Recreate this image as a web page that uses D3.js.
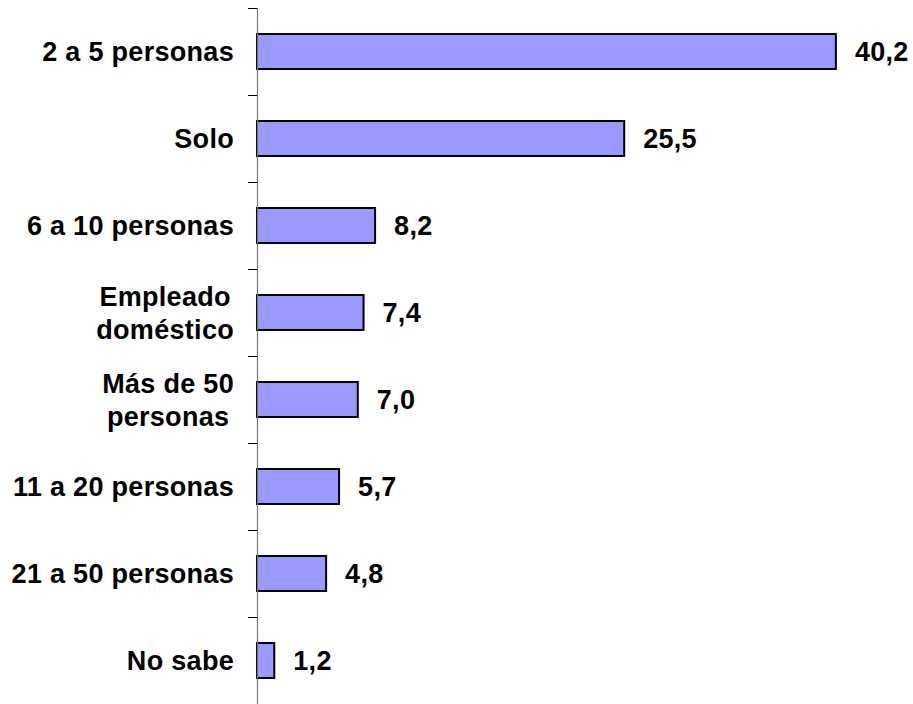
<!DOCTYPE html>
<html><head><meta charset="utf-8">
<script src="https://cdn.jsdelivr.net/npm/d3@7"></script>
<style>body{margin:0;background:#fff}text{font-family:Arial,"Liberation Sans",sans-serif;font-weight:bold;fill:#000}</style>
</head><body>
<svg id="c" width="913" height="704"></svg>
<script>
const categories = ["2 a 5 personas","Solo","6 a 10 personas","Empleado\ndoméstico","Más de 50\npersonas","11 a 20 personas","21 a 50 personas","No sabe"];
const values = [40.2,25.5,8.2,7.4,7.0,5.7,4.8,1.2];
const valueLabels = ["40,2","25,5","8,2","7,4","7,0","5,7","4,8","1,2"];

const svg = d3.select("#c");
const x = d3.scaleLinear().domain([0,45]).range([257,905]);
const y = d3.scaleBand().domain(categories).range([8,704]).paddingInner(0.598).paddingOuter(0.299);
const fs = 27;
const ls = "0.3px";

// bars
svg.selectAll("rect.bar").data(values).enter().append("rect")
  .attr("x", x(0)).attr("y",(d,i)=>y(categories[i]))
  .attr("width",d=>x(d)-x(0)).attr("height",y.bandwidth())
  .attr("fill","#9999FF").attr("stroke","#000").attr("stroke-width",2);

// axis
svg.append("line").attr("x1",257.5).attr("x2",257.5).attr("y1",8).attr("y2",704).attr("stroke","#777").attr("stroke-width",1.2);
const bounds = categories.map((c,i)=>y(c)-y.step()*y.paddingInner()/2);
svg.selectAll("line.tick").data(bounds).enter().append("line")
  .attr("x1",248).attr("x2",257).attr("y1",d=>Math.round(d)+0.5).attr("y2",d=>Math.round(d)+0.5)
  .attr("stroke","#000").attr("stroke-width",1);

// category labels
const right = 234;
categories.forEach((c,i)=>{
  const lines = c.split("\n");
  const cy = y(c)+y.bandwidth()/2;
  const g = svg.append("g");
  const lh = 33;
  const ts = lines.map((l,j)=>g.append("text").attr("y", cy + 9.5 + (j-(lines.length-1)/2)*lh)
      .style("font-size",fs+"px").style("letter-spacing",ls).text(l));
  if(lines.length===1){
    ts[0].attr("x",right).attr("text-anchor","end");
  } else {
    const w = d3.max(ts,t=>t.node().getComputedTextLength());
    ts.forEach(t=>t.attr("x",right-w/2).attr("text-anchor","middle"));
  }
});

// value labels
svg.selectAll("text.val").data(values).enter().append("text")
  .attr("x",d=>x(d)+19).attr("y",(d,i)=>y(categories[i])+y.bandwidth()/2+9.5)
  .style("font-size",fs+"px").style("letter-spacing",ls)
  .text((d,i)=>valueLabels[i]);
</script>
</body></html>
